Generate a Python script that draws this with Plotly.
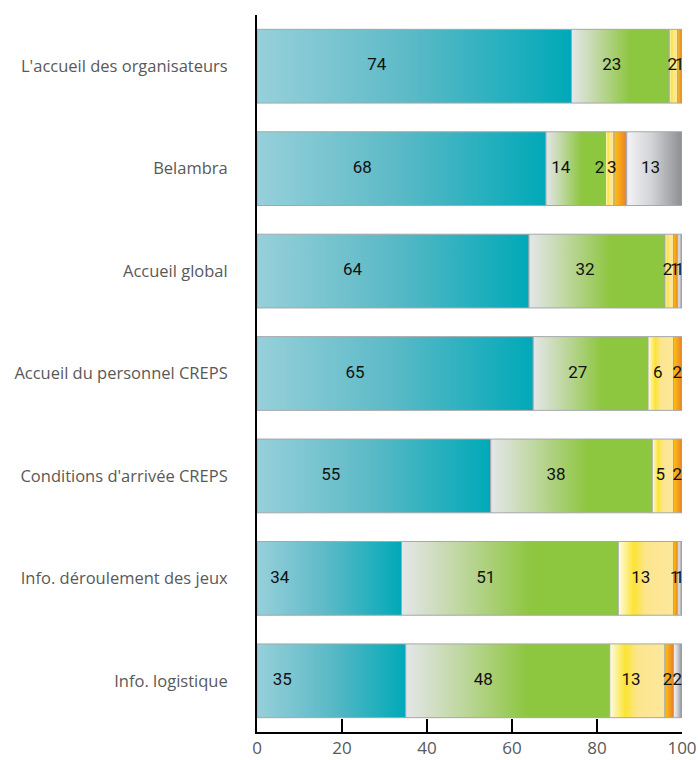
import plotly.graph_objects as go

# Satisfaction survey results (percent of respondents)
categories = [
    "L'accueil des organisateurs",
    "Belambra",
    "Accueil global",
    "Accueil du personnel CREPS",
    "Conditions d'arrivée CREPS",
    "Info. déroulement des jeux",
    "Info. logistique",
]
tres_satisfait = [74, 68, 64, 65, 55, 34, 35]
satisfait = [23, 14, 32, 27, 38, 51, 48]
peu_satisfait = [2, 2, 2, 6, 5, 13, 13]
pas_satisfait = [1, 3, 1, 2, 2, 1, 2]
sans_reponse = [0, 13, 1, 0, 0, 1, 2]
x_ticks = [0, 20, 40, 60, 80, 100]

series = [tres_satisfait, satisfait, peu_satisfait, pas_satisfait, sans_reponse]
gradients = [
    [[0, "#97d0da"], [0.5, "#5ab9c6"], [1, "#00a9b8"]],
    [[0, "#e4e6e9"], [0.25, "#c2d8a6"], [0.6, "#8dc63f"], [1, "#8dc63f"]],
    [[0, "#fffbe6"], [0.28, "#fbe433"], [0.5, "#fce58e"], [1, "#fce89c"]],
    [[0, "#fcc20e"], [0.5, "#f6a01d"], [1, "#e6802c"]],
    [[0, "#f4f4f6"], [0.45, "#d2d3d6"], [1, "#8c8e92"]],
]

half = 0.36
label_stretch = 1.14

fig = go.Figure()
lx, ly, lt = [], [], []
for i, cat in enumerate(categories):
    left = 0
    for vals, cs in zip(series, gradients):
        v = vals[i]
        if v <= 0:
            continue
        right = left + v
        fig.add_trace(go.Scatter(
            x=[left, right, right, left, left],
            y=[i - half, i - half, i + half, i + half, i - half],
            mode="lines",
            fill="toself",
            fillgradient=dict(type="horizontal", colorscale=cs, start=left, stop=right),
            line=dict(color="#a5a7aa", width=1),
            hoverinfo="skip",
            showlegend=False,
        ))
        centre = (left + right) / 2
        lx.append(100 - label_stretch * (100 - centre))
        ly.append(i)
        lt.append(str(v))
        left = right

fig.add_trace(go.Scatter(
    x=lx, y=ly, text=lt, mode="text",
    textposition="middle center",
    textfont=dict(family="Roboto, Liberation Sans, sans-serif",
                  size=17, color="#111111"),
    hoverinfo="skip", showlegend=False, cliponaxis=False,
))

fig.update_layout(
    width=698, height=760,
    margin=dict(l=257, r=16, t=15, b=28, autoexpand=False),
    paper_bgcolor="white", plot_bgcolor="white",
    font=dict(family="Open Sans, sans-serif", size=17, color="#595959"),
)
fig.update_xaxes(
    range=[0, 100], tickvals=x_ticks, ticks="inside", ticklen=13,
    tickwidth=2, tickcolor="black", showline=True, linecolor="black",
    linewidth=2, showgrid=False, zeroline=False, automargin=False,
    tickfont=dict(size=17, color="#595959"),
)
fig.update_yaxes(
    range=[6.5, -0.5], tickvals=list(range(len(categories))), ticktext=categories,
    showline=True, linecolor="black", linewidth=2, showgrid=False,
    zeroline=False, ticks="", ticklabelstandoff=24, automargin=False,
    tickfont=dict(size=16.5, color="#595959"),
)

fig.write_html("out.html")
